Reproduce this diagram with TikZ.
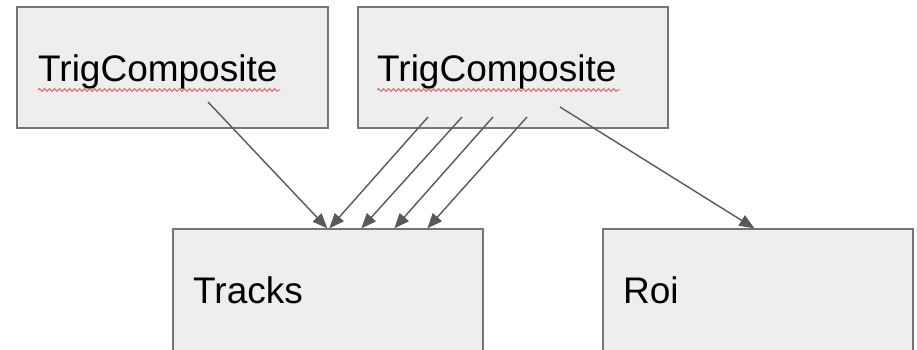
\documentclass[tikz,border=0pt]{standalone}
\usepackage{fontspec}
\setmainfont{Liberation Sans}
\usetikzlibrary{arrows.meta,decorations.pathmorphing}
\definecolor{boxfill}{HTML}{EEEEEE}
\definecolor{boxline}{HTML}{757575}
\definecolor{arrowc}{HTML}{595959}
\definecolor{squiggle}{HTML}{E06666}
\begin{document}
\begin{tikzpicture}[x=1pt,y=-1pt,
  box/.style={draw=boxline,fill=boxfill,line width=1.3pt,rectangle,inner sep=0pt},
  lbl/.style={anchor=base west,inner sep=0pt,font=\fontsize{37}{44}\selectfont},
  conn/.style={draw=arrowc,line width=1.4pt,-{Triangle[length=15pt,width=12pt]}},
  spell/.style={draw=squiggle,line width=1pt,decorate,decoration={snake,amplitude=1.4pt,segment length=5pt}}]
\useasboundingbox (0,0) rectangle (917,350);
\clip (0,0) rectangle (917,350);
\fill[white] (0,0) rectangle (917,350);
% boxes
\node[box,minimum width=311pt,minimum height=121pt] (tc1) at (172.5,67.5) {};
\node[box,minimum width=310pt,minimum height=121pt] (tc2) at (513,67.5) {};
\node[box,minimum width=310pt,minimum height=141pt] (tracks) at (328,299.5) {};
\node[box,minimum width=310pt,minimum height=141pt] (roi) at (758,299.5) {};
% labels
\node[lbl] (l1) at (38,82) {TrigComposite};
\node[lbl] (l2) at (377,82) {TrigComposite};
\node[lbl] (l3) at (193,303) {Tracks};
\node[lbl] (l4) at (623,303) {Roi};
% spell-check underlines
\draw[spell] (38,90) -- (280,90);
\draw[spell] (377,90) -- (620,90);
% connector start points
\coordinate (s0) at (208,102);
\coordinate (s1) at (428,117);
\coordinate (s2) at (462,117);
\coordinate (s3) at (493,117);
\coordinate (s4) at (527,117);
\coordinate (s5) at (560,107);
% connectors
\draw[conn] (s0) -- ([xshift=155pt]tracks.north west);
\draw[conn] (s1) -- ([xshift=157pt]tracks.north west);
\draw[conn] (s2) -- ([xshift=189pt]tracks.north west);
\draw[conn] (s3) -- ([xshift=222pt]tracks.north west);
\draw[conn] (s4) -- ([xshift=255pt]tracks.north west);
\draw[conn] (s5) -- ([xshift=152pt]roi.north west);
\end{tikzpicture}
\end{document}
